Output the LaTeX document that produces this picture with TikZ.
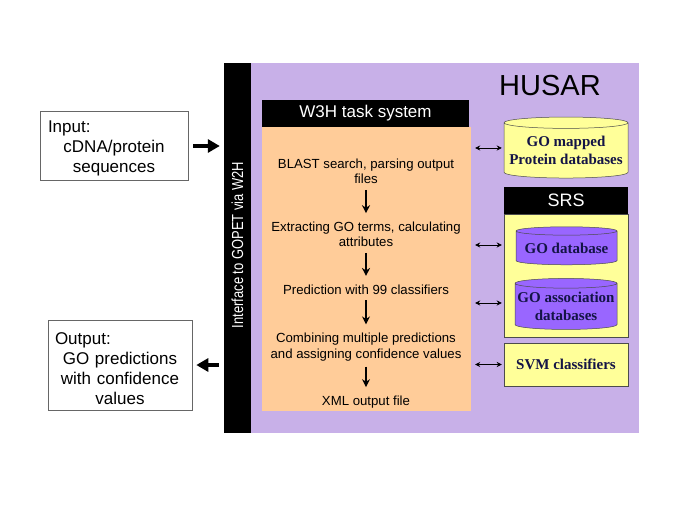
\documentclass[tikz,border=0pt]{standalone}
\usepackage{fontspec}
\setmainfont{Liberation Sans}
\newfontfamily\dbfont{Liberation Serif}
\usetikzlibrary{arrows.meta,shapes.geometric}
\definecolor{husarbg}{RGB}{200,176,232}
\definecolor{taskbg}{RGB}{255,204,153}
\definecolor{dbyellow}{RGB}{255,255,153}
\definecolor{dbviolet}{RGB}{153,102,255}
\definecolor{dbtext}{RGB}{20,20,70}

\begin{document}
\begin{tikzpicture}[x=1pt, y=-1pt,
    iobox/.style={draw=gray!80!black, line width=.6pt, fill=white, inner ysep=4pt, align=center, font=\fontsize{17}{20}\selectfont},
    header/.style={fill=black, text=white, inner sep=0pt},
    stepnode/.style={inner sep=0pt, align=center, font=\fontsize{13.2}{15.5}\selectfont},
    steparrow/.style={line width=2pt, -{Stealth[length=8pt,width=8pt]}, shorten <=5.5pt, shorten >=8.5pt},
    bigarrow/.style={line width=4pt, -{Triangle[length=12pt,width=13pt]}, shorten <=5pt, shorten >=4pt},
    linkarrow/.style={line width=.7pt, {Stealth[length=5pt,width=5pt]}-{Stealth[length=5pt,width=5pt]}, shorten <=4pt, shorten >=2pt},
    dbcyl/.style={cylinder, shape border rotate=90, aspect=0.1, draw=black!70, line width=.5pt, align=center, inner sep=0pt, text=dbtext, font=\dbfont\bfseries\fontsize{15}{18}\selectfont},
    dbbox/.style={draw=black!70, line width=.5pt, fill=dbyellow, inner sep=0pt, text=dbtext, font=\dbfont\bfseries\fontsize{15}{18}\selectfont}]
  \useasboundingbox (0,0) rectangle (685,513);
  % HUSAR frame and interface bar
  \node[fill=husarbg, minimum width=415pt, minimum height=370pt, inner sep=0pt] (husar) at (431.5,248) {};
  \node[font=\fontsize{29}{30}\selectfont] (husartitle) at (550,86) {HUSAR};
  \node[fill=black, minimum width=27pt, minimum height=370pt, inner sep=0pt] (bar) at (237.5,248) {};
  \node[text=white, rotate=90, inner sep=0pt, font=\fontsize{16}{18}\selectfont] (bartext) at (237.5,245) {\scalebox{0.81}[1]{Interface to GOPET via W2H}};
  % W3H task system
  \node[header, minimum width=207pt, minimum height=27pt, font=\fontsize{17}{20}\selectfont] (w3h) at (365.5,113.5) {W3H task system};
  \node[fill=taskbg, minimum width=209pt, minimum height=284pt, inner sep=0pt] (tasks) at (366.5,269) {};
  \node[stepnode] (blast) at (366,171.5) {BLAST search, parsing output\\files};
  \node[stepnode] (extract) at (366,234.5) {Extracting GO terms, calculating\\attributes};
  \node[stepnode] (predict) at (366,289.5) {Prediction with 99 classifiers};
  \node[stepnode] (combine) at (366,347) {Combining multiple predictions\\and assigning confidence values};
  \node[stepnode] (xml) at (366,402) {XML output file};
  \draw[steparrow] (blast) -- (extract);
  \draw[steparrow] (extract) -- (predict);
  \draw[steparrow] (predict) -- (combine);
  \draw[steparrow] (combine) -- (xml);
  % databases
  \node[dbcyl, fill=dbyellow, minimum width=124pt, minimum height=61pt] (mapped) at (566,150.5) {GO mapped\\Protein databases};
  \node[header, minimum width=124pt, minimum height=27pt, font=\fontsize{18}{20}\selectfont] (srs) at (566,200.5) {SRS};
  \node[dbbox, minimum width=124pt, minimum height=123pt] (srsbox) at (566,275.5) {};
  \node[dbcyl, fill=dbviolet, minimum width=101pt, minimum height=38pt] (godb) at (566.5,248) {GO database};
  \node[dbcyl, fill=dbviolet, minimum width=102pt, minimum height=51pt] (goassoc) at (566,306.5) {GO association\\databases};
  \node[dbbox, minimum width=124pt, minimum height=43pt] (svm) at (566,364.5) {SVM classifiers};
  \coordinate (mappedlink) at ([yshift=2.5pt]mapped.west);
  \coordinate (godblink) at ([yshift=3pt]godb.west);
  \coordinate (goassoclink) at ([yshift=3.5pt]goassoc.west);
  \draw[linkarrow] (tasks.east |- mappedlink) -- (mappedlink);
  \draw[linkarrow] (tasks.east |- godblink) -- (srsbox.west |- godblink);
  \draw[linkarrow] (tasks.east |- goassoclink) -- (srsbox.west |- goassoclink);
  \draw[linkarrow] (tasks.east |- svm) -- (svm.west);
  % input and output
  \node[iobox, text width=132pt, inner xsep=8pt, minimum height=68pt] (input) at (114,146) {\rule{0pt}{17.5pt}Input:\hfill\null\\cDNA/protein\\sequences};
  \node[iobox, text width=130pt, inner xsep=7pt, minimum height=90pt] (output) at (120,365) {\rule{0pt}{18.5pt}Output:\hfill\null\\GO predictions\\with confidence\\values};
  \draw[bigarrow] (input.east) -- (input.east -| bar.west);
  \draw[bigarrow] (output.east -| bar.west) -- (output.east);
\end{tikzpicture}
\end{document}
